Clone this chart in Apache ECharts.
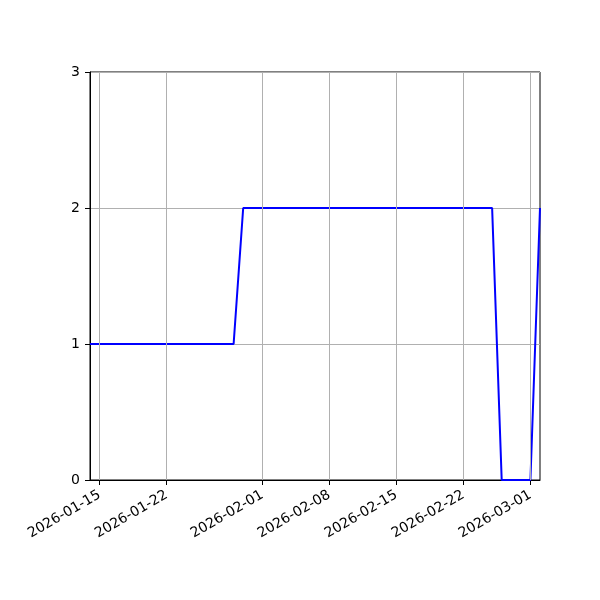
<!DOCTYPE html>
<html>
<head>
<meta charset="utf-8">
<script src="https://cdn.jsdelivr.net/npm/echarts@6/dist/echarts.min.js"></script>
<style>html,body{margin:0;padding:0;background:#fff}#c{width:600px;height:600px}</style>
</head>
<body>
<div id="c"></div>
<script>
const dates = [
  '2026-01-14','2026-01-15','2026-01-16','2026-01-17','2026-01-18','2026-01-19','2026-01-20','2026-01-21',
  '2026-01-22','2026-01-23','2026-01-24','2026-01-25','2026-01-26','2026-01-27','2026-01-28','2026-01-29',
  '2026-01-30','2026-01-31','2026-02-01','2026-02-02','2026-02-03','2026-02-04','2026-02-05','2026-02-06',
  '2026-02-07','2026-02-08','2026-02-09','2026-02-10','2026-02-11','2026-02-12','2026-02-13','2026-02-14',
  '2026-02-15','2026-02-16','2026-02-17','2026-02-18','2026-02-19','2026-02-20','2026-02-21','2026-02-22',
  '2026-02-23','2026-02-24','2026-02-25','2026-02-26','2026-02-27','2026-02-28','2026-03-01','2026-03-02'
];
const values = [
  1,1,1,1,1,1,1,1,
  1,1,1,1,1,1,1,1,
  2,2,2,2,2,2,2,2,
  2,2,2,2,2,2,2,2,
  2,2,2,2,2,2,2,2,
  2,2,2,0,0,0,0,2
];
const xTickDates = ['2026-01-15','2026-01-22','2026-02-01','2026-02-08','2026-02-15','2026-02-22','2026-03-01'];
const yTicks = [0,1,2,3];

const toTs = s => { const [y,m,d] = s.split('-').map(Number); return Date.UTC(y, m-1, d); };
const pad = n => String(n).padStart(2,'0');
const fmt = ts => { const d = new Date(ts); return d.getUTCFullYear()+'-'+pad(d.getUTCMonth()+1)+'-'+pad(d.getUTCDate()); };

const xTicks = xTickDates.map(toTs);
const seriesData = dates.map((d,i) => [toTs(d), values[i]]);
const font = 'DejaVu Sans';

const chart = echarts.init(document.getElementById('c'), null, {renderer:'canvas'});
chart.setOption({
  animation: false,
  backgroundColor: '#fff',
  grid: {left: 90, right: 60, top: 72, bottom: 120, show: true, borderColor: '#000', borderWidth: 1, backgroundColor: 'transparent'},
  xAxis: {
    type: 'value',
    min: toTs(dates[0]),
    max: toTs(dates[dates.length-1]),
    axisLine: {show: true, lineStyle: {color: '#000', width: 1}},
    axisTick: {show: true, inside: false, length: 5, lineStyle: {color: '#000'}, customValues: xTicks},
    axisLabel: {
      customValues: xTicks,
      rotate: 30, color: '#000', fontFamily: font, fontSize: 14, margin: 14,
      formatter: v => fmt(v)
    },
    splitLine: {show: false}
  },
  yAxis: {
    type: 'value',
    min: yTicks[0], max: yTicks[yTicks.length-1], interval: 1,
    axisLine: {show: true, lineStyle: {color: '#000', width: 1}},
    axisTick: {show: true, inside: false, length: 5, lineStyle: {color: '#000'}},
    axisLabel: {color: '#000', fontFamily: font, fontSize: 14, margin: 10},
    splitLine: {show: true, lineStyle: {color: '#b0b0b0', width: 1}}
  },
  series: [{
    type: 'line',
    data: seriesData,
    showSymbol: false,
    lineStyle: {color: '#0000ff', width: 2},
    markLine: {
      silent: true, symbol: 'none', label: {show: false},
      lineStyle: {color: '#b0b0b0', width: 1, type: 'solid'},
      data: xTicks.map(t => ({xAxis: t}))
    },
    z: 3
  }]
});
</script>
</body>
</html>
